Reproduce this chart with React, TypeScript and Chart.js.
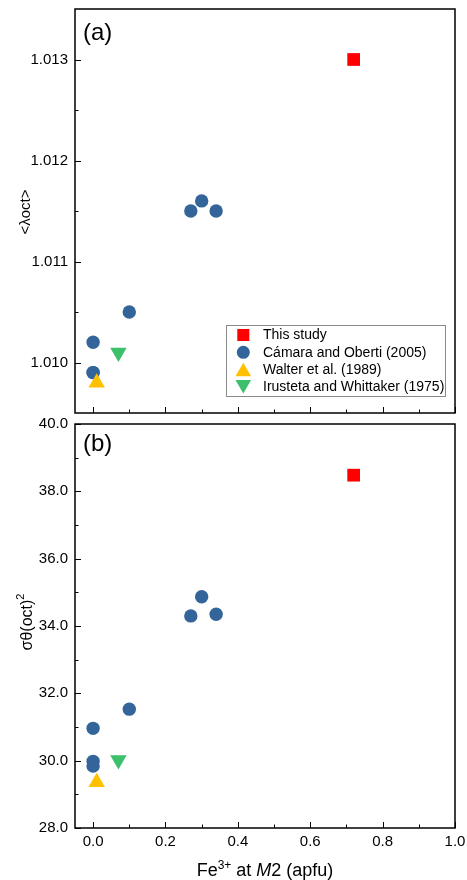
import React, { useEffect, useRef } from 'react';
import { Chart, registerables } from 'chart.js';

Chart.register(...registerables);

const FONT = '"Liberation Sans", Arial, Helvetica, sans-serif';

// Fe3+ at M2 (apfu) and octahedral distortion parameters for each source
const THIS_STUDY_X = [0.72];
const THIS_STUDY_LAMBDA = [1.013];
const THIS_STUDY_SIGMA = [38.48];

const CAMARA_X = [0.27, 0.3, 0.34, 0.1, 0.0, 0.0, 0.0];
const CAMARA_LAMBDA = [1.0115, 1.0116, 1.0115, 1.0105, 1.0102, 1.0099, 1.0099];
const CAMARA_SIGMA = [34.3, 34.87, 34.35, 31.53, 30.96, 29.98, 29.84];

const WALTER_X = [0.01];
const WALTER_LAMBDA = [1.0098];
const WALTER_SIGMA = [29.36];

const IRUSTETA_X = [0.07];
const IRUSTETA_LAMBDA = [1.0101];
const IRUSTETA_SIGMA = [30.02];

const X_TICKS = [0, 0.2, 0.4, 0.6, 0.8, 1.0];
const X_MINOR = [0.1, 0.3, 0.5, 0.7, 0.9];
const LAMBDA_TICKS = [1.01, 1.011, 1.012, 1.013];
const LAMBDA_MINOR = [1.0105, 1.0115, 1.0125];
const SIGMA_TICKS = [28, 30, 32, 34, 36, 38, 40];
const SIGMA_MINOR = [29, 31, 33, 35, 37, 39];

type Series = {
  label: string;
  color: string;
  style: 'rect' | 'circle' | 'triangle';
  radius: number;
  rotation: number;
  x: number[];
  a: number[];
  b: number[];
};

const SERIES: Series[] = [
  { label: 'This study', color: '#FF0000', style: 'rect', radius: 9, rotation: 0, x: THIS_STUDY_X, a: THIS_STUDY_LAMBDA, b: THIS_STUDY_SIGMA },
  { label: 'Cámara and Oberti (2005)', color: '#33659A', style: 'circle', radius: 6.7, rotation: 0, x: CAMARA_X, a: CAMARA_LAMBDA, b: CAMARA_SIGMA },
  { label: 'Walter et al. (1989)', color: '#FFC000', style: 'triangle', radius: 9.5, rotation: 0, x: WALTER_X, a: WALTER_LAMBDA, b: WALTER_SIGMA },
  { label: 'Irusteta and Whittaker (1975)', color: '#3CC06C', style: 'triangle', radius: 9.5, rotation: 180, x: IRUSTETA_X, a: IRUSTETA_LAMBDA, b: IRUSTETA_SIGMA },
];

type Part = { text: string; size: number; italic?: boolean; rise?: number };

function partFont(p: Part) {
  return `${p.italic ? 'italic ' : ''}${p.size}px ${FONT}`;
}

// Draws a run of text pieces (superscripts, italics) centred on cx
function drawRich(ctx: CanvasRenderingContext2D, parts: Part[], cx: number, baseline: number) {
  const widths = parts.map((p) => {
    ctx.font = partFont(p);
    return ctx.measureText(p.text).width;
  });
  const total = widths.reduce((s, w) => s + w, 0);
  let x = cx - total / 2;
  ctx.textAlign = 'left';
  ctx.textBaseline = 'alphabetic';
  parts.forEach((p, i) => {
    ctx.font = partFont(p);
    ctx.fillText(p.text, x, baseline - (p.rise || 0));
    x += widths[i];
  });
}

function drawMarker(ctx: CanvasRenderingContext2D, s: Series, x: number, y: number) {
  const r = s.radius;
  ctx.beginPath();
  if (s.style === 'circle') {
    ctx.arc(x, y, r, 0, Math.PI * 2);
  } else if (s.style === 'rect') {
    const h = r * Math.SQRT1_2;
    ctx.rect(x - h, y - h, 2 * h, 2 * h);
  } else {
    // centre the triangle on its bounding box
    const down = s.rotation === 180;
    const cy = down ? y - r / 4 : y + r / 4;
    let rad = (s.rotation * Math.PI) / 180;
    for (let i = 0; i < 3; i++) {
      const px = x + Math.sin(rad) * r;
      const py = cy - Math.cos(rad) * r;
      if (i === 0) ctx.moveTo(px, py);
      else ctx.lineTo(px, py);
      rad += (2 * Math.PI) / 3;
    }
    ctx.closePath();
  }
  ctx.fillStyle = s.color;
  ctx.fill();
}

function makeDatasets(key: 'a' | 'b') {
  return SERIES.map((s, i) => ({
    label: s.label,
    data: s.x.map((x, j) => ({ x, y: s[key][j] })),
    pointStyle: s.style,
    pointRadius: s.radius,
    pointRotation: s.rotation,
    pointBackgroundColor: s.color,
    pointBorderColor: s.color,
    pointBorderWidth: 0,
    pointHoverRadius: s.radius,
    showLine: false,
    order: SERIES.length - 1 - i,
  }));
}

// Box with inward major/minor ticks on the left and bottom edges
function framePlugin(xMinor: number[], yMinor: number[], tag: string, tagBaseline: number) {
  return {
    id: 'panelFrame',
    afterDraw(chart: any) {
      const { ctx, chartArea } = chart;
      const { left, right, top, bottom } = chartArea;
      const xs = chart.scales.x;
      const ys = chart.scales.y;
      ctx.save();
      ctx.strokeStyle = '#000';
      ctx.lineWidth = 1;
      const xt = (v: number, len: number) => {
        const p = Math.round(xs.getPixelForValue(v)) + 0.5;
        ctx.beginPath();
        ctx.moveTo(p, bottom);
        ctx.lineTo(p, bottom - len);
        ctx.stroke();
      };
      const yt = (v: number, len: number) => {
        const p = Math.round(ys.getPixelForValue(v)) + 0.5;
        ctx.beginPath();
        ctx.moveTo(left, p);
        ctx.lineTo(left + len, p);
        ctx.stroke();
      };
      X_TICKS.forEach((v) => xt(v, 6));
      xMinor.forEach((v) => xt(v, 3.5));
      ys.ticks.forEach((t: any) => yt(t.value, 6));
      yMinor.forEach((v) => yt(v, 3.5));
      ctx.lineWidth = 1.5;
      ctx.strokeRect(left, top, right - left, bottom - top);
      ctx.fillStyle = '#000';
      ctx.font = `24px ${FONT}`;
      ctx.textAlign = 'left';
      ctx.textBaseline = 'alphabetic';
      ctx.fillText(tag, left + 8, top + tagBaseline);
      ctx.restore();
    },
  };
}

const legendPlugin = {
  id: 'sourceLegend',
  afterDraw(chart: any) {
    const ctx = chart.ctx as CanvasRenderingContext2D;
    ctx.save();
    const bx = 226.5;
    const by = 325.5;
    ctx.fillStyle = '#fff';
    ctx.fillRect(bx, by, 219, 71);
    ctx.strokeStyle = '#8a8a8a';
    ctx.lineWidth = 1;
    ctx.strokeRect(bx, by, 219, 71);
    const rows = [335, 352.3, 369.4, 386.7];
    SERIES.forEach((s, i) => {
      const legendSeries = { ...s, radius: s.style === 'rect' ? 8.5 : s.style === 'circle' ? 6.5 : 9 };
      drawMarker(ctx, legendSeries, 243.3, rows[i]);
      ctx.fillStyle = '#000';
      ctx.font = `14px ${FONT}`;
      ctx.textAlign = 'left';
      ctx.textBaseline = 'middle';
      ctx.fillText(s.label, 263, rows[i] + 0.5);
    });
    ctx.restore();
  },
};

function yTitlePlugin(parts: Part[], baselineX: number, centerY: number) {
  return {
    id: 'yTitle',
    afterDraw(chart: any) {
      const ctx = chart.ctx as CanvasRenderingContext2D;
      ctx.save();
      ctx.fillStyle = '#000';
      ctx.translate(baselineX, centerY);
      ctx.rotate(-Math.PI / 2);
      drawRich(ctx, parts, 0, 0);
      ctx.restore();
    },
  };
}

function xTitlePlugin(baseline: number) {
  return {
    id: 'xTitle',
    afterDraw(chart: any) {
      const ctx = chart.ctx as CanvasRenderingContext2D;
      const { left, right } = chart.chartArea;
      ctx.save();
      ctx.fillStyle = '#000';
      drawRich(
        ctx,
        [
          { text: 'Fe', size: 18 },
          { text: '3+', size: 12, rise: 7.5 },
          { text: ' at ', size: 18 },
          { text: 'M', size: 18, italic: true },
          { text: '2 (apfu)', size: 18 },
        ],
        (left + right) / 2,
        baseline
      );
      ctx.restore();
    },
  };
}

const tickFont = { family: FONT, size: 15 };

function noScalePadding(s: any) {
  s.paddingTop = 0;
  s.paddingBottom = 0;
  s.paddingLeft = 0;
  s.paddingRight = 0;
}

function baseOptions(yMin: number, yMax: number, yTicks: number[], decimals: number, padTop: number, xHeight: number, showX: boolean) {
  return {
    responsive: false,
    maintainAspectRatio: false,
    animation: false as const,
    events: [] as any[],
    layout: { autoPadding: false, padding: { top: padTop, right: 12, left: 0, bottom: 0 } },
    plugins: { legend: { display: false }, tooltip: { enabled: false } },
    scales: {
      x: {
        type: 'linear' as const,
        min: -0.05,
        max: 1.0,
        grid: { display: false, drawTicks: false },
        border: { display: false },
        ticks: {
          display: showX,
          autoSkip: false,
          font: tickFont,
          color: '#000',
          padding: 5,
          maxRotation: 0,
          callback: (v: any) => Number(v).toFixed(1),
        },
        afterBuildTicks: (s: any) => {
          s.ticks = X_TICKS.map((value) => ({ value }));
        },
        afterFit: (s: any) => {
          s.height = xHeight;
          noScalePadding(s);
        },
      },
      y: {
        type: 'linear' as const,
        min: yMin,
        max: yMax,
        grid: { display: false, drawTicks: false },
        border: { display: false },
        ticks: {
          autoSkip: false,
          font: tickFont,
          color: '#000',
          padding: 7,
          callback: (v: any) => Number(v).toFixed(decimals),
        },
        afterBuildTicks: (s: any) => {
          s.ticks = yTicks.map((value) => ({ value }));
        },
        afterFit: (s: any) => {
          s.width = 75;
          noScalePadding(s);
        },
      },
    },
  };
}

// lower panel canvas overlaps the upper one so the "40.0" label has room
const LOWER_TOP = 400;

export default function App() {
  const topRef = useRef<HTMLCanvasElement | null>(null);
  const bottomRef = useRef<HTMLCanvasElement | null>(null);

  useEffect(() => {
    if (!topRef.current || !bottomRef.current) return;
    const top = new Chart(topRef.current, {
      type: 'scatter',
      data: { datasets: makeDatasets('a') as any },
      options: baseOptions(1.0095, 1.0135, LAMBDA_TICKS, 3, 9, 7, false) as any,
      plugins: [
        framePlugin(X_MINOR, LAMBDA_MINOR, '(a)', 31),
        legendPlugin,
        yTitlePlugin([{ text: '<λoct>', size: 15 }], 29.5, 212),
      ],
    });
    const bottom = new Chart(bottomRef.current, {
      type: 'scatter',
      data: { datasets: makeDatasets('b') as any },
      options: baseOptions(28, 40, SIGMA_TICKS, 1, 424 - LOWER_TOP, 52, true) as any,
      plugins: [
        framePlugin(X_MINOR, SIGMA_MINOR, '(b)', 26.5),
        xTitlePlugin(876 - LOWER_TOP),
        yTitlePlugin(
          [
            { text: 'σθ(oct)', size: 16 },
            { text: '2', size: 11, rise: 8 },
          ],
          31.5,
          622 - LOWER_TOP
        ),
      ],
    });
    return () => {
      top.destroy();
      bottom.destroy();
    };
  }, []);

  return (
    <div style={{ position: 'absolute', left: 0, top: 0, width: 467, height: 880, background: '#fff' }}>
      <canvas ref={topRef} width={467} height={420} style={{ position: 'absolute', left: 0, top: 0, width: 467, height: 420 }} />
      <canvas
        ref={bottomRef}
        width={467}
        height={880 - LOWER_TOP}
        style={{ position: 'absolute', left: 0, top: LOWER_TOP, width: 467, height: 880 - LOWER_TOP }}
      />
    </div>
  );
}
